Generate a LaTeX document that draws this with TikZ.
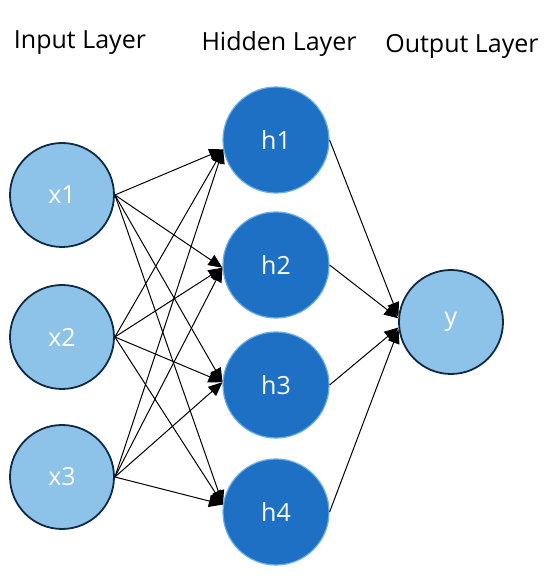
\documentclass[tikz,border=0pt]{standalone}
\usepackage{fontspec}
\setmainfont{Open Sans}
\usetikzlibrary{arrows.meta}
\definecolor{lightb}{HTML}{8DC3E8}
\definecolor{darkb}{HTML}{1E70C4}
\definecolor{navy}{HTML}{0F2A45}
\definecolor{rimb}{HTML}{6AAEE6}
\tikzset{
  x=1pt, y=1pt,
  inode/.style={circle, minimum size=104pt, inner sep=0pt, fill=lightb, draw=navy, line width=1.8pt, text=white, font=\fontsize{25}{25}\selectfont},
  hnode/.style={circle, minimum size=106pt, inner sep=0pt, fill=darkb, draw=rimb, line width=1.2pt, text=white, font=\fontsize{25}{25}\selectfont},
  title/.style={font=\fontsize{25}{25}\selectfont, text=black, inner sep=0pt},
  conn/.style={draw=black, line width=1pt, -{Triangle[length=14pt,width=12pt]}}
}
\begin{document}
\begin{tikzpicture}
\useasboundingbox (0,0) rectangle (550,581);
\node[title] (t1) at (80,538) {Input Layer};
\node[title] (t2) at (279,537) {Hidden Layer};
\node[title] (t3) at (462,535) {Output Layer};

\node[inode] (x1) at (62,386) {x1};
\node[inode] (x2) at (62,244) {x2};
\node[inode] (x3) at (62,104) {x3};

\node[hnode] (h1) at (276,441) {h1};
\node[hnode] (h2) at (276,316) {h2};
\node[hnode] (h3) at (276,196) {h3};
\node[hnode] (h4) at (276,69) {h4};

\node[inode] (y) at (451,259) {y};

\foreach \i in {x1,x2,x3}{
  \draw[conn] (\i.east) -- (h1.190);
  \draw[conn] (\i.east) -- (h2.183);
  \draw[conn] (\i.east) -- (h3.177);
  \draw[conn] (\i.east) -- (h4.172);
}
\draw[conn] (h1.east) -- (y.174);
\draw[conn] (h2.east) -- (y.176);
\draw[conn] (h3.east) -- (y.186);
\draw[conn] (h4.east) -- (y.188);
\end{tikzpicture}
\end{document}
